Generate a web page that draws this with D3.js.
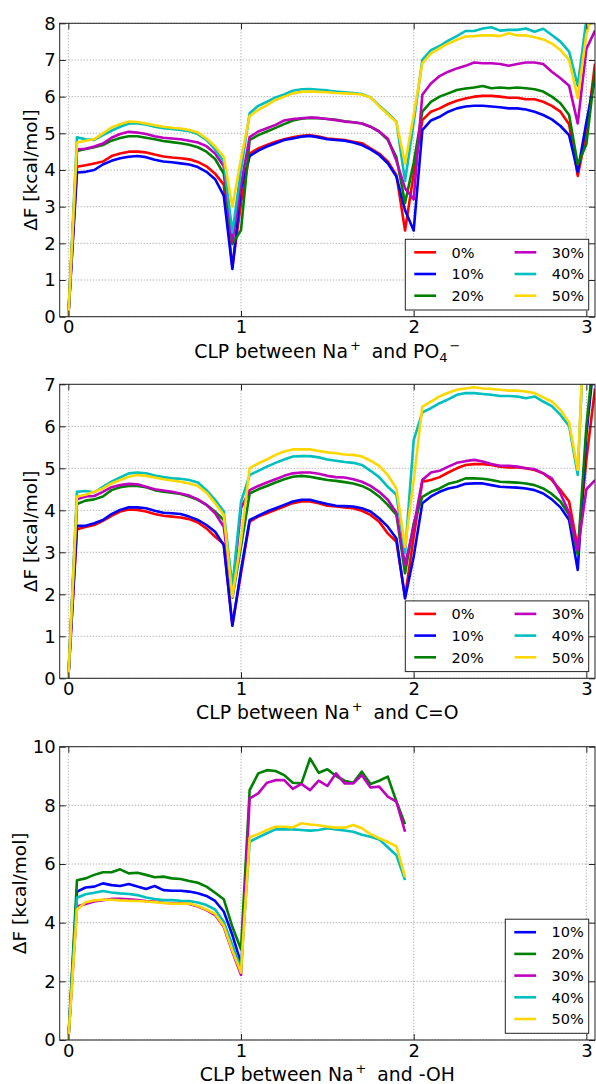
<!DOCTYPE html>
<html>
<head>
<meta charset="utf-8">
<script src="https://cdn.jsdelivr.net/npm/d3@7"></script>
<style>
	body { margin: 0; background: #fff; }
	text { font-family: "DejaVu Sans", sans-serif; }
</style>
</head>
<body>
<div id="plot"></div>
<script>

// ---------------------------//
//       DATA                 //
// ---------------------------//

// CLP values (x axis), shared by every series
var clp = [0, 0.05, 0.1, 0.15, 0.2, 0.25, 0.3, 0.35, 0.4, 0.45, 0.5, 0.55, 0.6, 0.65, 0.7, 0.75, 0.8, 0.85, 0.9, 0.95,
	1.0, 1.05, 1.1, 1.15, 1.2, 1.25, 1.3, 1.35, 1.4, 1.45, 1.5, 1.55, 1.6, 1.65, 1.7, 1.75, 1.8, 1.85, 1.9, 1.95,
	2.0, 2.05, 2.1, 2.15, 2.2, 2.25, 2.3, 2.35, 2.4, 2.45, 2.5, 2.55, 2.6, 2.65, 2.7, 2.75, 2.8, 2.85, 2.9, 2.95,
	3.0, 3.05];

var percents = ["0%", "10%", "20%", "30%", "40%", "50%"];
var colors = ["#ff0000", "#0000ff", "#008000", "#bf00bf", "#00bfbf", "#ffd700"];

var xTicks = [0, 1, 2, 3];

// Na+ and PO4-
var po4_0 = [0, 4.09, 4.13, 4.18, 4.23, 4.38, 4.45, 4.5, 4.5, 4.48, 4.42, 4.37, 4.34, 4.32, 4.29, 4.22, 4.1, 3.9, 3.6, 1.35,
	3.1, 4.45, 4.59, 4.68, 4.77, 4.84, 4.89, 4.93, 4.95, 4.91, 4.86, 4.84, 4.82, 4.77, 4.73, 4.59, 4.45, 4.23, 3.86, 2.35,
	3.9, 5.36, 5.59, 5.68, 5.8, 5.89, 5.95, 6.0, 6.02, 6.02, 6.0, 5.97, 5.97, 5.93, 5.93, 5.86, 5.75, 5.59, 5.25, 3.84,
	5.0, 6.9];
var po4_10 = [0, 3.93, 3.95, 4.0, 4.15, 4.25, 4.32, 4.36, 4.38, 4.35, 4.28, 4.23, 4.21, 4.18, 4.15, 4.08, 3.95, 3.75, 3.3, 1.3,
	3.5, 4.38, 4.53, 4.64, 4.73, 4.82, 4.86, 4.91, 4.93, 4.89, 4.84, 4.82, 4.8, 4.75, 4.68, 4.56, 4.41, 4.18, 3.82, 2.9,
	2.35, 5.09, 5.35, 5.45, 5.59, 5.68, 5.73, 5.75, 5.75, 5.73, 5.71, 5.68, 5.68, 5.65, 5.59, 5.5, 5.38, 5.2, 4.95, 3.95,
	5.3, 6.5];
var po4_20 = [0, 4.52, 4.57, 4.62, 4.68, 4.8, 4.87, 4.92, 4.92, 4.88, 4.84, 4.79, 4.76, 4.73, 4.69, 4.62, 4.5, 4.3, 3.9, 1.98,
	2.36, 4.82, 4.95, 5.05, 5.15, 5.25, 5.35, 5.4, 5.42, 5.41, 5.39, 5.37, 5.33, 5.3, 5.27, 5.18, 5.05, 4.82, 4.35, 3.1,
	4.2, 5.59, 5.86, 6.0, 6.09, 6.18, 6.22, 6.25, 6.29, 6.23, 6.25, 6.23, 6.25, 6.23, 6.2, 6.14, 6.0, 5.82, 5.5, 4.15,
	4.7, 6.7];
var po4_30 = [0, 4.56, 4.58, 4.64, 4.72, 4.88, 4.98, 5.04, 5.02, 4.98, 4.92, 4.88, 4.86, 4.84, 4.8, 4.75, 4.65, 4.45, 4.1, 2.05,
	3.6, 4.9, 5.05, 5.14, 5.23, 5.35, 5.39, 5.41, 5.43, 5.42, 5.39, 5.36, 5.32, 5.3, 5.27, 5.18, 5.05, 4.85, 4.25, 3.5,
	3.2, 6.05, 6.36, 6.56, 6.68, 6.77, 6.84, 6.93, 6.91, 6.91, 6.89, 6.84, 6.89, 6.93, 6.93, 6.89, 6.68, 6.5, 6.3, 5.27,
	7.3, 7.8];
var po4_40 = [0, 4.89, 4.84, 4.82, 4.95, 5.07, 5.18, 5.27, 5.27, 5.24, 5.18, 5.14, 5.12, 5.09, 5.06, 4.98, 4.82, 4.56, 4.23, 2.3,
	4.0, 5.55, 5.75, 5.86, 5.98, 6.06, 6.16, 6.2, 6.21, 6.19, 6.17, 6.14, 6.12, 6.1, 6.07, 5.98, 5.76, 5.55, 5.32, 3.7,
	5.3, 7.0, 7.27, 7.38, 7.53, 7.65, 7.79, 7.79, 7.86, 7.89, 7.8, 7.82, 7.82, 7.86, 7.77, 7.85, 7.68, 7.5, 7.23, 6.3,
	8.1, 9.6];
var po4_50 = [0, 4.75, 4.8, 4.84, 5.0, 5.16, 5.25, 5.32, 5.31, 5.27, 5.22, 5.18, 5.15, 5.13, 5.09, 5.02, 4.86, 4.64, 4.36, 3.0,
	4.3, 5.47, 5.64, 5.77, 5.91, 6.0, 6.09, 6.13, 6.14, 6.13, 6.12, 6.1, 6.09, 6.08, 6.06, 5.98, 5.74, 5.52, 5.3, 4.18,
	5.5, 6.91, 7.18, 7.32, 7.45, 7.55, 7.64, 7.65, 7.67, 7.67, 7.65, 7.73, 7.67, 7.67, 7.62, 7.56, 7.45, 7.27, 7.0, 5.96,
	7.7, 8.5];

// Na+ and C=O
var co_0 = [0, 3.55, 3.6, 3.65, 3.75, 3.87, 3.97, 4.02, 4.01, 3.97, 3.91, 3.87, 3.85, 3.83, 3.79, 3.71, 3.57, 3.37, 3.2, 1.27,
	2.5, 3.73, 3.85, 3.93, 4.01, 4.09, 4.17, 4.21, 4.21, 4.17, 4.11, 4.09, 4.07, 4.05, 3.99, 3.89, 3.73, 3.45, 3.25, 1.94,
	3.37, 4.68, 4.72, 4.79, 4.9, 5.0, 5.08, 5.1, 5.1, 5.08, 5.04, 5.02, 5.02, 5.0, 4.96, 4.88, 4.72, 4.48, 4.21, 3.1,
	5.2, 6.9];
var co_10 = [0, 3.63, 3.63, 3.69, 3.77, 3.91, 4.01, 4.07, 4.07, 4.05, 3.99, 3.94, 3.93, 3.91, 3.85, 3.77, 3.65, 3.49, 3.17, 1.25,
	2.58, 3.77, 3.87, 3.97, 4.05, 4.13, 4.21, 4.25, 4.25, 4.2, 4.15, 4.11, 4.1, 4.09, 4.05, 3.97, 3.81, 3.61, 3.33, 1.9,
	2.9, 4.17, 4.33, 4.44, 4.52, 4.56, 4.63, 4.64, 4.64, 4.6, 4.56, 4.55, 4.54, 4.52, 4.48, 4.4, 4.26, 4.07, 3.77, 2.58,
	5.8, 7.8];
var co_20 = [0, 4.15, 4.23, 4.26, 4.33, 4.48, 4.55, 4.58, 4.58, 4.55, 4.48, 4.44, 4.42, 4.39, 4.33, 4.25, 4.13, 3.97, 3.77, 1.92,
	3.13, 4.4, 4.5, 4.58, 4.66, 4.74, 4.8, 4.82, 4.8, 4.76, 4.72, 4.7, 4.67, 4.64, 4.58, 4.48, 4.33, 4.13, 3.89, 2.5,
	3.69, 4.32, 4.44, 4.52, 4.63, 4.68, 4.76, 4.76, 4.75, 4.72, 4.68, 4.67, 4.66, 4.64, 4.6, 4.52, 4.39, 4.21, 3.89, 2.95,
	6.0, 8.0];
var co_30 = [0, 4.26, 4.33, 4.34, 4.44, 4.55, 4.6, 4.63, 4.62, 4.56, 4.5, 4.47, 4.44, 4.4, 4.35, 4.26, 4.13, 3.93, 3.61, 2.02,
	4.05, 4.48, 4.58, 4.66, 4.74, 4.82, 4.88, 4.9, 4.9, 4.87, 4.82, 4.79, 4.78, 4.74, 4.68, 4.58, 4.44, 4.25, 3.94, 2.7,
	3.61, 4.72, 4.9, 4.94, 5.04, 5.13, 5.17, 5.2, 5.16, 5.1, 5.06, 5.06, 5.04, 5.0, 4.98, 4.88, 4.76, 4.4, 3.94, 3.05,
	4.5, 4.72];
var co_40 = [0, 4.44, 4.46, 4.43, 4.56, 4.68, 4.78, 4.88, 4.9, 4.88, 4.83, 4.79, 4.76, 4.75, 4.72, 4.66, 4.48, 4.25, 3.97, 2.18,
	4.2, 4.84, 4.94, 5.04, 5.13, 5.21, 5.28, 5.29, 5.29, 5.26, 5.21, 5.18, 5.15, 5.13, 5.08, 4.94, 4.79, 4.56, 4.37, 2.98,
	5.67, 6.33, 6.43, 6.55, 6.64, 6.75, 6.79, 6.79, 6.77, 6.75, 6.72, 6.72, 6.71, 6.67, 6.71, 6.59, 6.48, 6.27, 6.01, 4.84,
	9.5, 10.5];
var co_50 = [0, 4.33, 4.37, 4.44, 4.52, 4.64, 4.72, 4.8, 4.84, 4.82, 4.78, 4.74, 4.71, 4.68, 4.64, 4.58, 4.42, 4.17, 3.89, 1.94,
	3.29, 5.0, 5.12, 5.21, 5.32, 5.4, 5.45, 5.45, 5.45, 5.41, 5.38, 5.36, 5.33, 5.32, 5.28, 5.18, 5.06, 4.84, 4.52, 3.13,
	4.72, 6.47, 6.59, 6.71, 6.8, 6.87, 6.9, 6.93, 6.9, 6.89, 6.87, 6.85, 6.85, 6.83, 6.79, 6.69, 6.59, 6.39, 6.09, 4.96,
	9.5, 10.5];

// Na+ and -OH (no 0% series, 10% stops at CLP 1)
var oh_10 = [0, 5.06, 5.2, 5.23, 5.34, 5.28, 5.25, 5.32, 5.23, 5.15, 5.25, 5.11, 5.09, 5.09, 5.06, 5.0, 4.91, 4.74, 4.38, 3.58,
	2.61];
var oh_20 = [0, 5.45, 5.51, 5.63, 5.72, 5.72, 5.82, 5.68, 5.7, 5.63, 5.55, 5.57, 5.51, 5.49, 5.42, 5.36, 5.23, 5.02, 4.8, 3.86,
	3.09, 8.52, 9.09, 9.2, 9.17, 9.03, 8.77, 8.75, 9.6, 9.11, 9.23, 9.0, 8.84, 8.77, 9.15, 8.73, 8.84, 8.98, 8.13, 7.36];
var oh_30 = [0, 4.55, 4.64, 4.72, 4.77, 4.81, 4.81, 4.8, 4.77, 4.74, 4.72, 4.68, 4.66, 4.66, 4.64, 4.55, 4.43, 4.26, 3.86, 3.01,
	2.22, 8.24, 8.41, 8.77, 8.86, 8.86, 8.56, 8.73, 8.52, 8.84, 8.66, 9.09, 8.75, 8.75, 9.03, 8.61, 8.64, 8.3, 8.13, 7.1];
var oh_40 = [0, 4.85, 4.97, 5.02, 5.08, 5.03, 5.0, 4.98, 4.94, 4.86, 4.81, 4.77, 4.77, 4.75, 4.74, 4.69, 4.6, 4.45, 4.03, 3.24,
	2.44, 6.76, 6.91, 7.05, 7.18, 7.18, 7.18, 7.16, 7.14, 7.16, 7.22, 7.18, 7.14, 7.1, 7.0, 6.93, 6.84, 6.57, 6.3, 5.45];
var oh_50 = [0, 4.45, 4.7, 4.76, 4.78, 4.78, 4.76, 4.75, 4.74, 4.72, 4.7, 4.67, 4.65, 4.65, 4.65, 4.57, 4.45, 4.3, 3.9, 3.05,
	2.3, 6.91, 7.02, 7.16, 7.27, 7.27, 7.25, 7.39, 7.35, 7.32, 7.27, 7.24, 7.24, 7.33, 7.22, 7.02, 6.88, 6.75, 6.6, 5.55];


// ---------------------------//
//       SETUP                //
// ---------------------------//

var width = 596, height = 1084;
var plotLeft = 59.7, plotRight = 595;

var svg = d3.select("#plot")
	.append("svg")
	.attr("width", width)
	.attr("height", height);

var color = d3.scaleOrdinal()
	.domain(percents)
	.range(colors);

var x = d3.scaleLinear()
	.domain([-0.05, 3.05])
	.range([plotLeft, plotRight]);

var fmt = d3.format("d");

var panels = [
	{id: "po4", top: 23.3, bottom: 316.7, yMax: 8, yStep: 1, yLabelX: 36.5, cols: 2,
		partner: [{t: " and PO"}, {t: "4", sub: true}, {t: "\u2212", sup: true}],
		series: [["0%", po4_0], ["10%", po4_10], ["20%", po4_20], ["30%", po4_30], ["40%", po4_40], ["50%", po4_50]]},
	{id: "co", top: 384.3, bottom: 678.3, yMax: 7, yStep: 1, yLabelX: 36.5, cols: 2,
		partner: [{t: " and C=O"}],
		series: [["0%", co_0], ["10%", co_10], ["20%", co_20], ["30%", co_30], ["40%", co_40], ["50%", co_50]]},
	{id: "oh", top: 746.7, bottom: 1040, yMax: 10, yStep: 2, yLabelX: 25.5, cols: 1,
		partner: [{t: " and -OH"}],
		series: [["10%", oh_10], ["20%", oh_20], ["30%", oh_30], ["40%", oh_40], ["50%", oh_50]]}
];

panels.forEach(drawPanel);

function drawPanel(p)
{
	var y = d3.scaleLinear()
		.domain([0, p.yMax])
		.range([p.bottom, p.top]);
	var yTicks = d3.range(0, p.yMax + 0.001, p.yStep);

	var g = svg.append("g");

	// ---------------------------//
	//       GRID                 //
	// ---------------------------//
	g.append("g").selectAll("line")
		.data(xTicks)
		.enter()
		.append("line")
		.attr("x1", function(d){ return x(d); })
		.attr("x2", function(d){ return x(d); })
		.attr("y1", p.top)
		.attr("y2", p.bottom)
		.attr("stroke", "#999")
		.attr("stroke-width", 1)
		.attr("stroke-dasharray", "1,2");

	g.append("g").selectAll("line")
		.data(yTicks)
		.enter()
		.append("line")
		.attr("x1", plotLeft)
		.attr("x2", plotRight)
		.attr("y1", function(d){ return y(d); })
		.attr("y2", function(d){ return y(d); })
		.attr("stroke", "#999")
		.attr("stroke-width", 1)
		.attr("stroke-dasharray", "1,2");

	// ---------------------------//
	//       LINES                //
	// ---------------------------//
	svg.append("clipPath")
		.attr("id", "clip-" + p.id)
		.append("rect")
		.attr("x", plotLeft)
		.attr("y", p.top)
		.attr("width", plotRight - plotLeft)
		.attr("height", p.bottom - p.top);

	var line = d3.line()
		.x(function(d){ return x(d[0]); })
		.y(function(d){ return y(d[1]); });

	g.append("g")
		.attr("clip-path", "url(#clip-" + p.id + ")")
		.selectAll("path")
		.data(p.series)
		.enter()
		.append("path")
		.attr("d", function(s){ return line(d3.zip(clp, s[1])); })
		.attr("fill", "none")
		.attr("stroke", function(s){ return color(s[0]); })
		.attr("stroke-width", 2.6)
		.attr("stroke-linejoin", "round");

	// ---------------------------//
	//       AXES                 //
	// ---------------------------//
	var axisStyle = function(sel) {
		sel.attr("font-size", 18).attr("font-family", "DejaVu Sans");
		sel.select(".domain").remove();
		sel.selectAll(".tick line").attr("stroke", "#222");
		sel.selectAll(".tick text").attr("fill", "#000");
	};

	g.append("g")
		.attr("transform", "translate(0," + p.bottom + ")")
		.call(d3.axisBottom(x).tickValues(xTicks).tickFormat(fmt).tickSizeInner(-6).tickSizeOuter(0).tickPadding(4))
		.call(axisStyle);
	g.append("g")
		.attr("transform", "translate(0," + p.top + ")")
		.call(d3.axisTop(x).tickValues(xTicks).tickSizeInner(-6).tickSizeOuter(0).tickFormat(""))
		.call(axisStyle);
	g.append("g")
		.attr("transform", "translate(" + plotLeft + ",0)")
		.call(d3.axisLeft(y).tickValues(yTicks).tickFormat(fmt).tickSizeInner(-6).tickSizeOuter(0).tickPadding(4))
		.call(axisStyle);
	g.append("g")
		.attr("transform", "translate(" + plotRight + ",0)")
		.call(d3.axisRight(y).tickValues(yTicks).tickSizeInner(-6).tickSizeOuter(0).tickFormat(""))
		.call(axisStyle);

	// frame
	g.append("rect")
		.attr("x", plotLeft)
		.attr("y", p.top)
		.attr("width", plotRight - plotLeft)
		.attr("height", p.bottom - p.top)
		.attr("fill", "none")
		.attr("stroke", "#222")
		.attr("stroke-width", 1);

	// Y axis label
	g.append("text")
		.attr("transform", "translate(" + p.yLabelX + "," + ((p.top + p.bottom) / 2) + ") rotate(-90)")
		.attr("text-anchor", "middle")
		.attr("font-size", 18.5)
		.text("\u0394F [kcal/mol]");

	// X axis label with super/subscripts
	var xl = g.append("text")
		.attr("x", (plotLeft + plotRight) / 2)
		.attr("y", p.bottom + 41)
		.attr("text-anchor", "middle")
		.attr("font-size", 18.8);
	xl.append("tspan").text("CLP between Na");
	xl.append("tspan").attr("font-size", 13).attr("dy", -8).attr("dx", 2).text("+");
	var shift = -8;
	p.partner.forEach(function(part){
		var target = part.sup ? -8 : (part.sub ? 4 : 0);
		xl.append("tspan")
			.attr("font-size", (part.sup || part.sub) ? 13 : 18.8)
			.attr("dy", target - shift)
			.attr("dx", shift == -8 && target == 0 ? 5 : (part.sup ? 2 : 0))
			.text(part.t);
		shift = target;
	});

	// ---------------------------//
	//       LEGEND               //
	// ---------------------------//
	var n = p.series.length;
	var rows = Math.ceil(n / p.cols);
	var boxW = p.cols == 2 ? 183.4 : 83.4;
	var boxH = rows * 21.7 + 5.6;
	var bx = plotRight - 6.3 - boxW;
	var by = p.bottom - 6.7 - boxH;

	var lg = g.append("g");
	lg.append("rect")
		.attr("x", bx)
		.attr("y", by)
		.attr("width", boxW)
		.attr("height", boxH)
		.attr("fill", "#fff")
		.attr("stroke", "#222")
		.attr("stroke-width", 1);

	var items = lg.selectAll("g.item")
		.data(p.series)
		.enter()
		.append("g")
		.attr("class", "item")
		.attr("transform", function(d, i){
			var col = Math.floor(i / rows), row = i % rows;
			return "translate(" + (bx + 9 + col * 100.3) + "," + (by + 13 + row * 21.7) + ")";
		});
	items.append("line")
		.attr("x1", 0)
		.attr("x2", 21.7)
		.attr("stroke", function(d){ return color(d[0]); })
		.attr("stroke-width", 2.6);
	items.append("text")
		.attr("x", 37.2)
		.attr("dy", "0.36em")
		.attr("font-size", 14.5)
		.text(function(d){ return d[0]; });
}
</script>
</body>
</html>
